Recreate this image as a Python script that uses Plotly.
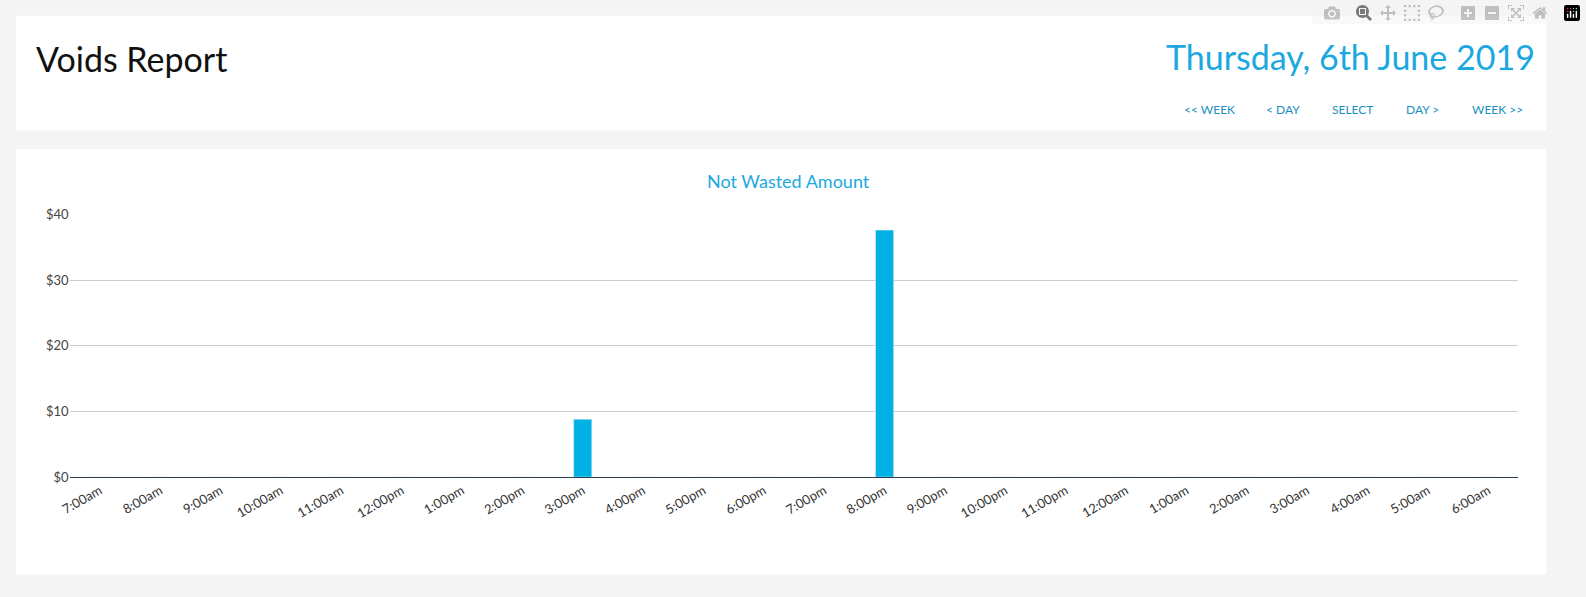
import plotly.graph_objects as go

W, H = 1586, 597

hours = ["7:00am", "8:00am", "9:00am", "10:00am", "11:00am", "12:00pm", "1:00pm",
         "2:00pm", "3:00pm", "4:00pm", "5:00pm", "6:00pm", "7:00pm", "8:00pm",
         "9:00pm", "10:00pm", "11:00pm", "12:00am", "1:00am", "2:00am", "3:00am",
         "4:00am", "5:00am", "6:00am"]
not_wasted = [0, 0, 0, 0, 0, 0, 0, 0, 8.8, 0, 0, 0, 0, 37.6,
              0, 0, 0, 0, 0, 0, 0, 0, 0, 0]
y_ticks = [0, 10, 20, 30, 40]
y_labels = ["$0", "$10", "$20", "$30", "$40"]
nav_links = ["<< WEEK", "< DAY", "SELECT", "DAY >", "WEEK >>"]
nav_x = [1207, 1281, 1351, 1421, 1497]

BLUE = "#00b2e3"
FONT = "Lato, 'Open Sans', sans-serif"

def px(x):
    return x / W

def py(y):
    return 1 - y / H

fig = go.Figure(go.Bar(x=hours, y=not_wasted, marker_color=BLUE, width=0.3,
                       hoverinfo="x+y"))

# white cards
shapes = [
    dict(type="rect", xref="paper", yref="paper", x0=px(6), x1=px(1546),
         y0=py(126), y1=py(8), fillcolor="white", line_width=0, layer="below"),
    dict(type="rect", xref="paper", yref="paper", x0=px(6), x1=px(1546),
         y0=py(582), y1=py(145), fillcolor="white", line_width=0, layer="below"),
]

annotations = [
    dict(text="Voids Report", x=px(24), y=py(52), xref="paper", yref="paper",
         xanchor="left", yanchor="middle", showarrow=False,
         font=dict(family=FONT, size=34, color="#111")),
    dict(text="Thursday, 6th June 2019", x=px(1537), y=py(50), xref="paper", yref="paper",
         xanchor="right", yanchor="middle", showarrow=False,
         font=dict(family=FONT, size=34, color="#1ba8e0")),
    dict(text="Not Wasted Amount", x=px(783), y=py(178), xref="paper", yref="paper",
         xanchor="center", yanchor="middle", showarrow=False,
         font=dict(family=FONT, size=18, color="#1ba8e0")),
]
for label, x in zip(nav_links, nav_x):
    annotations.append(dict(text=label, x=px(x), y=py(104), xref="paper", yref="paper",
                            xanchor="center", yanchor="middle", showarrow=False,
                            font=dict(family=FONT, size=12, color="#1a8fc0")))

fig.update_layout(
    width=W, height=H,
    margin=dict(l=0, r=0, t=0, b=0),
    paper_bgcolor="#f4f4f4",
    plot_bgcolor="white",
    shapes=shapes,
    annotations=annotations,
    showlegend=False,
    font=dict(family=FONT, size=13, color="#444"),
    xaxis=dict(domain=[px(60), px(1518)], tickangle=-30, showgrid=False,
               showline=True, linecolor="#2d3e50", linewidth=1,
               tickfont=dict(size=13, color="#333"), ticks=""),
    yaxis=dict(domain=[py(482), py(212)], range=[0, 40], tickmode="array",
               tickvals=y_ticks, ticktext=y_labels, gridcolor="#cccccc", zeroline=False,
               tickfont=dict(size=13, color="#444"), ticksuffix="  "),
)

fig.write_html("out.html",
               post_script="document.body.style.margin='0';document.body.style.overflow='hidden';")
